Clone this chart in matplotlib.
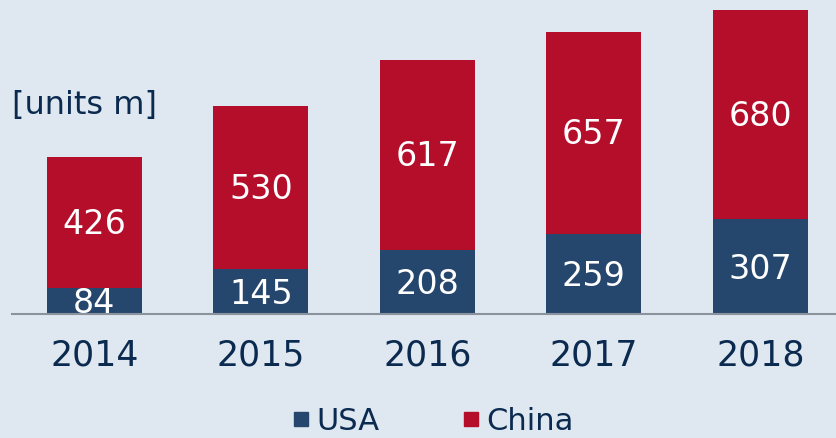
import numpy as np
import matplotlib.pyplot as plt
from matplotlib.lines import Line2D

years = ['2014', '2015', '2016', '2017', '2018']
usa = [84, 145, 208, 259, 307]
china = [426, 530, 617, 657, 680]

bg = '#dfe7f0'
red = '#b50e2a'
blue = '#26476d'
txt = '#0b2a4f'

fig = plt.figure(figsize=(8.36, 4.38), dpi=100, facecolor=bg)
ax = fig.add_axes([12/836, 124/438, 1 - 12/836, 314/438])
ax.set_facecolor(bg)

x = np.arange(len(years))
ax.bar(x, usa, width=0.57, color=blue)
ax.bar(x, china, width=0.57, bottom=usa, color=red)

for i in range(len(years)):
    ax.text(x[i], usa[i] / 2 - 8, str(usa[i]), ha='center', va='center',
            color='white', fontsize=24)
    ax.text(x[i], usa[i] + china[i] / 2 - 6, str(china[i]), ha='center', va='center',
            color='white', fontsize=24)

ax.set_xlim(-0.495, 4.455)
ax.set_ylim(0, 1020)
ax.set_xticks(x)
ax.set_xticklabels(years, fontsize=25, color=txt)
ax.tick_params(axis='x', length=0, pad=18)
ax.set_yticks([])
for s in ['top', 'right', 'left']:
    ax.spines[s].set_visible(False)
ax.spines['bottom'].set_color('#8a929e')
ax.spines['bottom'].set_linewidth(1.5)

fig.text(12/836, 1 - 106/438, '[units m]', fontsize=23, color=txt, va='center', ha='left')

handles = [Line2D([], [], marker='s', linestyle='', color=blue, markersize=10),
           Line2D([], [], marker='s', linestyle='', color=red, markersize=10)]
fig.legend(handles, ['USA', 'China'], loc='center', bbox_to_anchor=(0.517, 17/438),
           ncol=2, frameon=False, fontsize=22, handletextpad=0.15,
           columnspacing=2.66, handlelength=0.7, labelcolor=txt)

fig.savefig('out.png', dpi=100, facecolor=bg)
